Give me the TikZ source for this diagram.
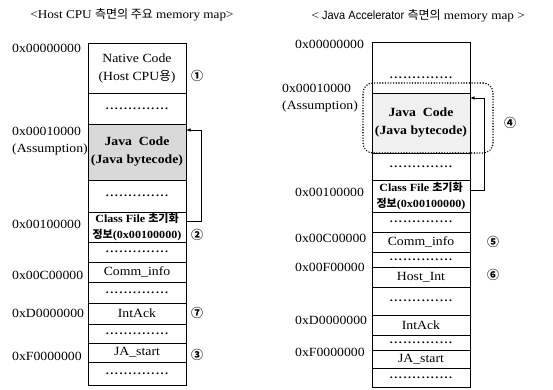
\documentclass[tikz,border=0pt]{standalone}
\usepackage{fontspec}
\setmainfont{Liberation Serif}[FakeStretch=1.1]
\newfontfamily\kr{Noto Sans CJK KR}
\newfontfamily\sansf{Liberation Sans}[FakeStretch=0.92]
\newfontfamily\dotfont{Liberation Serif}[LetterSpace=14,FakeStretch=1.1]
\usetikzlibrary{arrows.meta}
\newcommand\drow{{\dotfont\bfseries\fontsize{11}{11}\selectfont ..............}}
\tikzset{
  cell/.style={draw, line width=0.9pt, minimum width=98pt, inner sep=0pt, outer sep=0pt,
    anchor=north, align=center, font=\fontsize{12.5}{18}\selectfont},
  javacell/.style={cell, font=\fontsize{12.5}{18}\selectfont\bfseries},
  classcell/.style={cell, font=\fontsize{11}{15.5}\selectfont\bfseries},
  addr/.style={anchor=west, inner sep=0pt, align=left, font=\fontsize{12.5}{17}\selectfont},
  circ/.style={inner sep=0pt, font=\kr\fontsize{12}{12}\selectfont\bfseries},
  ttl/.style={inner sep=0pt, font=\fontsize{12}{14}\selectfont},
  arr/.style={line width=0.9pt, -{Latex[length=4.5pt,width=3.5pt]}},
  grp/.style={draw, line width=1.6pt, dash pattern=on 0.01pt off 2.7pt, line cap=round,
    rounded corners=10pt, minimum width=130pt, minimum height=70pt, inner sep=0pt}
}
\begin{document}
\begin{tikzpicture}[x=1pt,y=-1pt]
\useasboundingbox (0,0) rectangle (553,389);
% titles
\node[ttl] (t1) at (132,15) {<Host CPU {\kr 측면의 주요} memory map>};
\node[ttl] (t2) at (418,16) {< {\sansf Java Accelerator} {\kr 측면의} memory map >};

% left column
\node[cell, minimum height=50pt] (L1) at (137,43) {Native Code\\(Host CPU{\kr 용})};
\node[cell, minimum height=31pt] (L2) at (L1.south) {\drow};
\node[javacell, minimum height=56pt, fill=gray!30] (L3) at (L2.south) {Java\ \ Code\\(Java bytecode)};
\node[cell, minimum height=32pt] (L4) at (L3.south) {\drow};
\node[classcell, minimum height=30pt] (L5) at (L4.south) {Class File {\kr 초기화}\\{\kr 정보}(0x00100000)};
\node[cell, minimum height=20pt] (L6) at (L5.south) {\drow};
\node[cell, minimum height=20pt] (L7) at (L6.south) {Comm\_info};
\node[cell, minimum height=21pt] (L8) at (L7.south) {\drow};
\node[cell, minimum height=21pt] (L9) at (L8.south) {IntAck};
\node[cell, minimum height=19pt] (L10) at (L9.south) {\drow};
\node[cell, minimum height=19pt] (L11) at (L10.south) {JA\_start};
\node[cell, minimum height=23pt] (L12) at (L11.south) {\drow};

% left addresses
\node[addr] (la1) at (12,48) {0x00000000};
\node[addr] (la2) at (12,141) {0x00010000\\(Assumption)};
\node[addr] (la3) at (12,224) {0x00100000};
\node[addr] (la4) at (12,275) {0x00C00000};
\node[addr] (la5) at (12,313) {0xD0000000};
\node[addr] (la6) at (12,356) {0xF0000000};

% left circled numbers
\node[circ] (c1) at (197,76) {①};
\node[circ] (c2) at (197,235) {②};
\node[circ] (c7) at (197,313) {⑦};
\node[circ] (c3) at (197,355) {③};

\draw[arr] ([yshift=6pt]L5.east) -- ++(15,0) |- ([yshift=-6pt]L3.north east);

% right column
\node[cell, minimum height=51pt] (R1) at (421,42) {};
\node[inner sep=0pt] (R1d) at (421,78) {\drow};
\node[javacell, minimum height=60pt, fill=gray!12] (R2) at (R1.south) {Java\ \ Code\\(Java bytecode)};
\node[cell, minimum height=27pt] (R3) at (R2.south) {\drow};
\node[classcell, minimum height=32pt] (R4) at (R3.south) {Class File {\kr 초기화}\\{\kr 정보}(0x00100000)};
\node[cell, minimum height=20pt] (R5) at (R4.south) {\drow};
\node[cell, minimum height=20pt] (R6) at (R5.south) {Comm\_info};
\node[cell, minimum height=15pt] (R7) at (R6.south) {\drow};
\node[cell, minimum height=20pt] (R8) at (R7.south) {Host\_Int};
\node[cell, minimum height=28pt] (R9) at (R8.south) {\drow};
\node[cell, minimum height=20pt] (R10) at (R9.south) {IntAck};
\node[cell, minimum height=15pt] (R11) at (R10.south) {\drow};
\node[cell, minimum height=18pt] (R12) at (R11.south) {JA\_start};
\node[cell, minimum height=19pt] (R13) at (R12.south) {\drow};

% right addresses
\node[addr] (ra1) at (295,44) {0x00000000};
\node[addr] (ra2) at (282,98) {0x00010000\\(Assumption)};
\node[addr] (ra3) at (295,192) {0x00100000};
\node[addr] (ra4) at (295,238) {0x00C00000};
\node[addr] (ra5) at (295,267) {0x00F00000};
\node[addr] (ra6) at (295,320) {0xD0000000};
\node[addr] (ra7) at (295,352) {0xF0000000};

% dotted group
\node[grp] (G) at (428,118) {};

% right circled numbers
\node[circ] (c4) at (510,123) {④};
\node[circ] (c5) at (493,242) {⑤};
\node[circ] (c6) at (493,275) {⑥};

\draw[arr] ([yshift=6pt]R4.east) -- ++(14,0) |- ([yshift=-5pt]R2.north east);
\end{tikzpicture}
\end{document}
